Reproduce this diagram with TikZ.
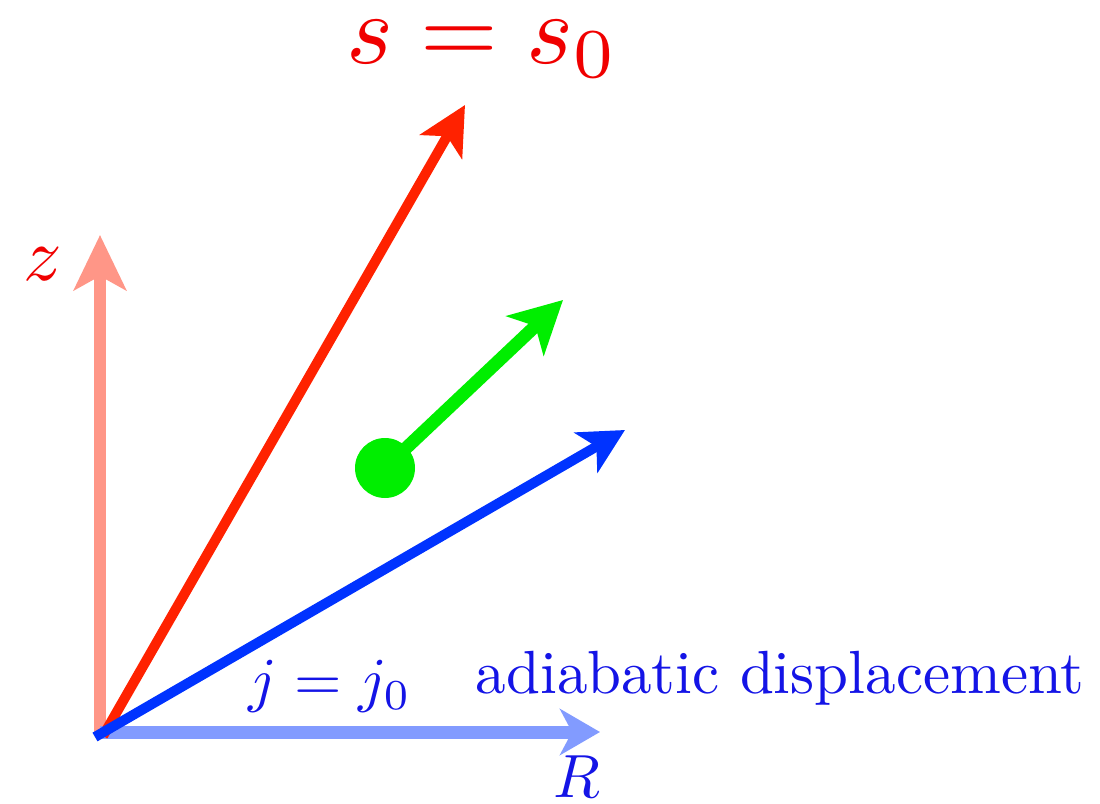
\documentclass[tikz,border=0pt]{standalone}
\usetikzlibrary{arrows.meta}
\definecolor{zcol}{RGB}{255,150,135}
\definecolor{Rcol}{RGB}{130,155,255}
\definecolor{scol}{RGB}{255,34,0}
\definecolor{jcol}{RGB}{0,51,255}
\definecolor{gcol}{RGB}{0,238,0}
\definecolor{tred}{RGB}{240,0,0}
\definecolor{tblue}{RGB}{20,20,230}
\tikzset{
  vec/.style={line width=#1, -{Stealth[length=48pt,width=48pt,inset=12pt]}},
  lbl/.style={anchor=base, inner sep=0pt, scale=6.1},
}
\begin{document}
\begin{tikzpicture}[x=1pt,y=-1pt]
\useasboundingbox (0,0) rectangle (1100,803);
\coordinate (O) at (100,732);
\coordinate (Rt) at (600,732);
\coordinate (Zt) at (100,235);
\coordinate (St) at (465,105);
\coordinate (Jt) at (625,430);
\coordinate (Gs) at (385,468);
\coordinate (Gt) at (563,300);
\coordinate (So) at (103,736);
\coordinate (Jo) at (95,737);
\draw[line width=12pt, zcol, -{Stealth[length=55pt,width=52pt,inset=14pt]}] (O) -- (Zt);
\draw[line width=13pt, Rcol, -{Stealth[length=40pt,width=46pt,inset=12pt]}] (O) -- (Rt);
\draw[vec=10pt, scol] (So) -- (St);
\draw[vec=10pt, jcol, -{Stealth[length=45pt,width=46pt,inset=12pt]}] (Jo) -- (Jt);
\fill[gcol] (Gs) circle (30pt);
\draw[line width=13pt, gcol, -{Stealth[length=52pt,width=54pt,inset=14pt]}] (Gs) -- (Gt);
\node[lbl, scale=10/6.1, text=tred] (slab) at (482,63) {$s=s_0$};
\node[lbl, scale=7.6/6.1, text=tred] (zlab) at (43,280) {$z$};
\node[lbl, text=tblue] (jlab) at (330,700) {$j=j_0$};
\node[lbl, text=tblue] (alab) at (780,693) {adiabatic displacement};
\node[lbl, text=tblue] (Rlab) at (577,797) {$R$};
\end{tikzpicture}
\end{document}
